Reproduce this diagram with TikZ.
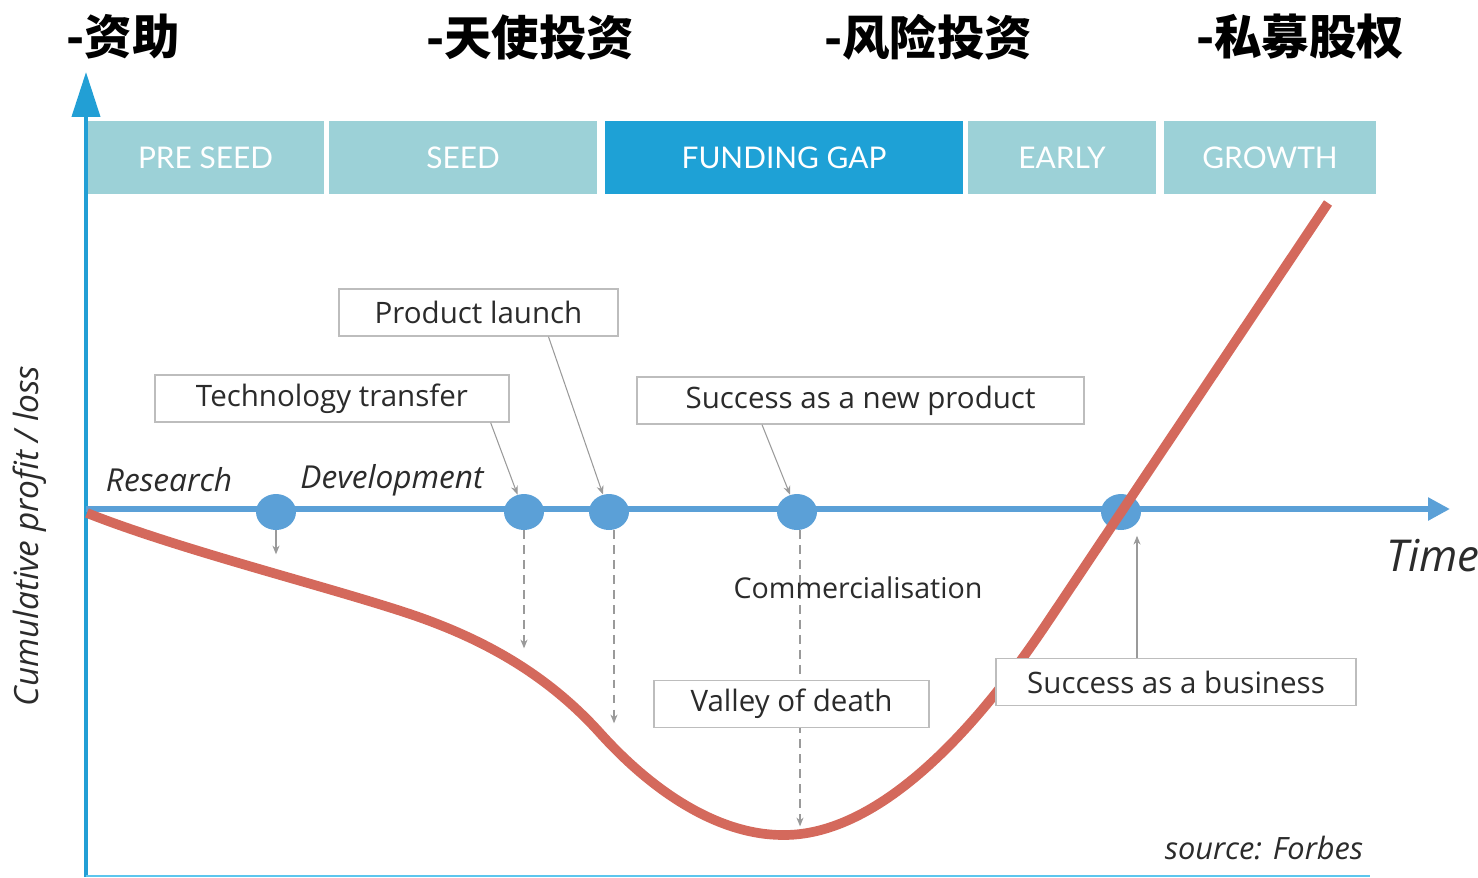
\documentclass[tikz,border=0pt]{standalone}
\usepackage{fontspec}
\setmainfont{Open Sans}
\newfontfamily\cjk{Noto Sans CJK SC}
\newfontfamily\stagefont{Lato}
\usetikzlibrary{shapes.geometric,arrows.meta}

\definecolor{axisblue}{HTML}{229FD5}
\definecolor{lineblue}{HTML}{5BA0D7}
\definecolor{stageteal}{HTML}{9CD1D7}
\definecolor{gapblue}{HTML}{1EA1D6}
\definecolor{curvered}{HTML}{D4695C}
\definecolor{pointgray}{HTML}{9A9A9A}
\definecolor{boxgray}{HTML}{BDBDBD}
\definecolor{textgray}{HTML}{2B2B2B}
\definecolor{baseblue}{HTML}{5CC6EE}

\tikzset{
  stagebox/.style={fill=stageteal, text=white, minimum height=1.46cm, inner sep=0pt,
    font=\stagefont\fontsize{17}{20}\selectfont},
  labelbox/.style={draw=boxgray, line width=0.8pt, fill=white, text=textgray,
    minimum height=0.94cm, inner sep=0pt, font=\fontsize{16.8}{19}\selectfont},
  milestone/.style={ellipse, fill=lineblue, minimum width=0.8cm, minimum height=0.72cm, inner sep=0pt},
  pointer/.style={draw=pointgray, line width=0.6pt, -{Stealth[length=5pt,width=4pt]}},
  dropline/.style={pointer, dash pattern=on 5pt off 3.5pt},
  heading/.style={font=\cjk\bfseries\fontsize{27}{30}\selectfont},
  axislabel/.style={text=textgray, font=\itshape\fontsize{18}{21}\selectfont},
}

\begin{document}
\begin{tikzpicture}[x=0.02cm, y=-0.02cm]
\useasboundingbox (0,0) rectangle (1478,877);

% funding sources
\node[heading] (grant) at (123,37) {-资助};
\node[heading] (angel) at (530,37) {-天使投资};
\node[heading] (venture) at (928,37) {-风险投资};
\node[heading] (equity) at (1300,37) {-私募股权};

% stages
\node[stagebox, minimum width=4.74cm] (preseed) at (205.5,157.5) {PRE SEED};
\node[stagebox, minimum width=5.36cm] (seed) at (463,157.5) {SEED};
\node[stagebox, fill=gapblue, minimum width=7.16cm] (gap) at (784,157.5) {FUNDING GAP};
\node[stagebox, minimum width=3.76cm] (early) at (1062,157.5) {EARLY};
\node[stagebox, minimum width=4.24cm] (growth) at (1270,157.5) {GROWTH};

% axes
\coordinate (origin) at (86,509);
\coordinate (ytop) at (86,72);
\coordinate (xend) at (1450,509);
\draw[axisblue, line width=2.3pt, -{Triangle[length=0.9cm, width=0.56cm]}] (86,877) -- (ytop);
\draw[lineblue, line width=3.4pt, -{Triangle[length=0.44cm, width=0.44cm]}] (origin) -- (xend);
\draw[baseblue, line width=1.2pt] (86,876) -- (1370,876);

% milestones
\node[milestone] (devstart) at (276,512) {};
\node[milestone] (transferpt) at (524,512) {};
\node[milestone] (launchpt) at (609,512) {};
\node[milestone] (productpt) at (797,512) {};
\node[milestone] (businesspt) at (1121,512) {};

\draw[pointer] (devstart.south) -- ++(0,24);
\draw[dropline] (transferpt.south) -- ++(0,118);
\draw[dropline] ([xshift=0.1cm]launchpt.south) -- ++(0,193);
\draw[dropline] ([xshift=0.06cm]productpt.south) -- ++(0,296);

% profit curve
\draw[curvered, line width=5.5pt] (87,513) .. controls (180,550) and (330,587) .. (413,615)
  .. controls (480,638) and (545,672) .. (600,733)
  .. controls (655,794) and (720,835) .. (783,835)
  .. controls (900,836) and (1010,678) .. (1047,623) -- (1328,203);

% callouts
\node[labelbox, minimum width=5.58cm] (launch) at (478.5,312.5) {Product launch};
\node[labelbox, minimum width=7.08cm] (transfer) at (332,398.5) {Technology transfer};
\node[labelbox, minimum width=8.94cm] (newproduct) at (860.5,400.5) {Success as a new product};
\node[labelbox, minimum width=5.5cm] (valley) at (791.5,704) {Valley of death};
\node[labelbox, minimum width=7.2cm] (business) at (1176,682) {Success as a business};

\draw[pointer] ([xshift=-0.38cm]transfer.south east) -- (transferpt);
\draw[pointer] ([xshift=1.4cm]launch.south) -- (launchpt);
\draw[pointer] ([xshift=-1.97cm]newproduct.south) -- (productpt);
\draw[pointer] ([xshift=-0.78cm]business.north) -- ++(0,-122);

% texts
\node[axislabel] (research) at (169,480) {Research};
\node[axislabel] (development) at (392,480) {Development};
\node[axislabel, font=\itshape\fontsize{25}{28}\selectfont] (time) at (1433,556) {Time};
\node[axislabel, rotate=90, font=\itshape\fontsize{19}{22}\selectfont] (ylabel) at (30,536) {Cumulative profit / loss};
\node[text=textgray, font=\fontsize{16.3}{19}\selectfont] (commercial) at (858,588) {Commercialisation};
\node[axislabel, font=\itshape\fontsize{17.5}{20}\selectfont] (source) at (1264,848) {source: Forbes};
\end{tikzpicture}
\end{document}
